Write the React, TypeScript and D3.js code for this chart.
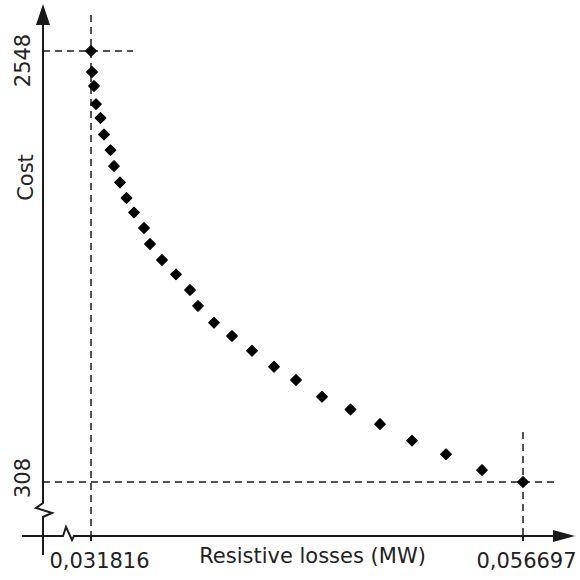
import React from "react";
import * as d3 from "d3";

// Pareto front: resistive losses (MW) vs cost
const losses = [
  0.031816, 0.031874, 0.031989, 0.032104, 0.032363, 0.032565, 0.032939, 0.033141,
  0.033486, 0.033861, 0.034293, 0.034869, 0.035214, 0.035905, 0.036712, 0.037518,
  0.037979, 0.0389, 0.039937, 0.041089, 0.042356, 0.043623, 0.045121, 0.046762,
  0.048461, 0.050304, 0.052262, 0.054336, 0.056697,
];
const costs = [
  2548, 2439, 2366, 2272, 2200, 2114, 2033, 1950, 1865, 1784, 1709, 1628, 1545, 1462,
  1387, 1306, 1223, 1136, 1067, 990, 907, 838, 751, 685, 609, 523, 452, 370, 308,
];
const xTickLabels = ["0,031816", "0,056697"];
const yTickLabels = ["2548", "308"];
const xTitle = "Resistive losses (MW)";
const yTitle = "Cost";

const W = 580;
const H = 580;
const FONT = "'DejaVu Sans', Verdana, sans-serif";

export default function App() {
  const xMin = d3.min(losses)!;
  const xMax = d3.max(losses)!;
  const yMin = d3.min(costs)!;
  const yMax = d3.max(costs)!;

  const x = d3.scaleLinear().domain([xMin, xMax]).range([91, 523]);
  const y = d3.scaleLinear().domain([yMin, yMax]).range([482, 51]);

  const axisX = 43; // vertical axis position
  const axisY = 536; // horizontal axis position

  const marker = d3.symbol().type(d3.symbolSquare).size(56)()!;
  const line = d3.line();

  const yAxisPath = line([
    [axisX, 24],
    [axisX, 503],
    [36, 508],
    [52, 513],
    [axisX, 517],
    [axisX, 555],
  ])!;
  const xAxisPath = line([
    [22, axisY],
    [63, axisY],
    [66, 527],
    [72, 540],
    [74, axisY],
    [554, axisY],
  ])!;

  const stroke = "#1a1a1a";
  const dash = "7 5";

  return (
    <svg
      width={W}
      height={H}
      style={{ position: "absolute", left: 0, top: 0, background: "#fff" }}
    >
      <rect width={W} height={H} fill="#fff" />

      {/* guide lines at the extreme solutions */}
      <g stroke={stroke} strokeWidth={1.5} strokeDasharray={dash} fill="none">
        <line x1={axisX} x2={133} y1={y(yMax)} y2={y(yMax)} />
        <line x1={x(xMin)} x2={x(xMin)} y1={15} y2={axisY} />
        <line x1={axisX} x2={557} y1={y(yMin)} y2={y(yMin)} />
        <line x1={x(xMax)} x2={x(xMax)} y1={432} y2={axisY} />
      </g>

      {/* axes with break marks */}
      <g stroke={stroke} strokeWidth={2} fill="none" strokeLinejoin="miter">
        <path d={yAxisPath} />
        <path d={xAxisPath} />
        <line x1={x(xMin)} x2={x(xMin)} y1={axisY} y2={541} />
        <line x1={x(xMax)} x2={x(xMax)} y1={axisY} y2={541} />
      </g>
      <path d={`M${axisX},4 L${axisX - 7},25 L${axisX + 7},25 Z`} fill={stroke} />
      <path d={`M575,${axisY} L553,${axisY - 6} L553,${axisY + 6} Z`} fill={stroke} />

      {/* data points */}
      <g fill="#000" stroke="#000" strokeWidth={1.2} strokeLinejoin="round">
        {losses.map((v, i) => (
          <path
            key={i}
            d={marker}
            transform={`translate(${x(v)},${y(costs[i])}) rotate(45)`}
          />
        ))}
      </g>

      {/* labels */}
      <g fontFamily={FONT} fontSize={21} fill="#222">
        <text x={x(xMin) + 8.5} y={568} textAnchor="middle">
          {xTickLabels[0]}
        </text>
        <text x={x(xMax) + 3.5} y={568} textAnchor="middle">
          {xTickLabels[1]}
        </text>
        <text x={312.5} y={563} textAnchor="middle">
          {xTitle}
        </text>
        <text transform={`translate(30,${y(yMax) + 9.5}) rotate(-90)`} textAnchor="middle">
          {yTickLabels[0]}
        </text>
        <text transform={`translate(30,${y(yMin) - 4}) rotate(-90)`} textAnchor="middle">
          {yTickLabels[1]}
        </text>
        <text transform="translate(33,177.5) rotate(-90)" textAnchor="middle">
          {yTitle}
        </text>
      </g>
    </svg>
  );
}
